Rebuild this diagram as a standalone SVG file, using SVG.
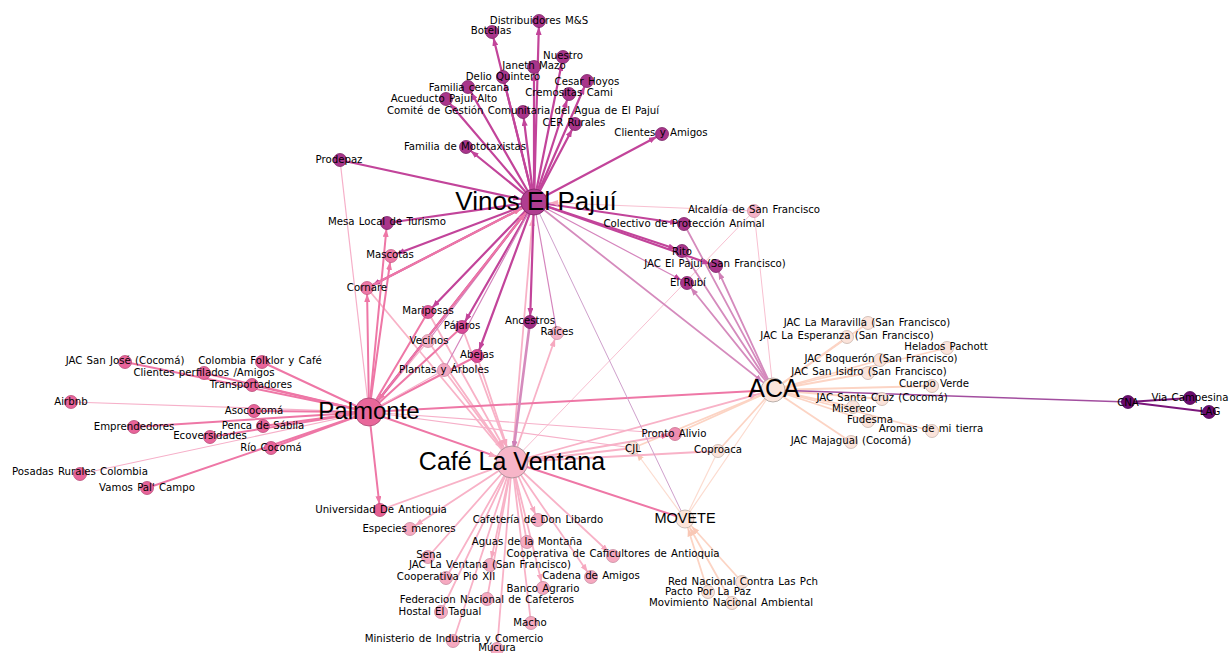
<svg xmlns="http://www.w3.org/2000/svg" width="1231" height="653" viewBox="0 0 1231 653">
<defs>
<style>
line{fill:none;stroke-linecap:round}
.ev{stroke:#c2449a;stroke-width:2.2}
.evt{stroke:#d585bd;stroke-width:1.2}
.ep{stroke:#ee77a6;stroke-width:2}
.ept{stroke:#f6b0c9;stroke-width:1.2}
.ec{stroke:#f8b2c7;stroke-width:1.8}
.ect{stroke:#f8c0d1;stroke-width:1}
.ea{stroke:#fcd4c4;stroke-width:1.8}
.eat{stroke:#fcdcd0;stroke-width:1.2}
.em{stroke:#d58bbd;stroke-width:1.8}
.emt{stroke:#cfa0cc;stroke-width:1}
.en{stroke:#a24e9f;stroke-width:1.6}
.enn{stroke:#7a167a;stroke-width:2.2}
circle{stroke-width:0.8}
.nv{fill:#a9358b;stroke:#7a2266}
.np{fill:#e8649a;stroke:#b84a76}
.nc{fill:#f6a9c0;stroke:#c88aa0}
.na{fill:#fbe3da;stroke:#c9b4ab}
.nn{fill:#6c0b70;stroke:#4a0550}
.l{font-family:"DejaVu Sans",sans-serif;font-size:10.2px;text-anchor:middle;fill:#000;word-spacing:1px}
.b{font-family:"Liberation Sans",Arial,sans-serif;text-anchor:middle;fill:#000}
</style>
<marker id="mv" markerUnits="userSpaceOnUse" markerWidth="8" markerHeight="6" refX="14" refY="3" orient="auto"><path d="M0,0L8,3L0,6z" fill="#c2449a"/></marker>
<marker id="mvH" markerUnits="userSpaceOnUse" markerWidth="8" markerHeight="6" refX="21" refY="3" orient="auto"><path d="M0,0L8,3L0,6z" fill="#c2449a"/></marker>
<marker id="mp" markerUnits="userSpaceOnUse" markerWidth="8" markerHeight="6" refX="14" refY="3" orient="auto"><path d="M0,0L8,3L0,6z" fill="#ee77a6"/></marker>
<marker id="mpH" markerUnits="userSpaceOnUse" markerWidth="8" markerHeight="6" refX="22" refY="3" orient="auto"><path d="M0,0L8,3L0,6z" fill="#ee77a6"/></marker>
<marker id="mc" markerUnits="userSpaceOnUse" markerWidth="8" markerHeight="6" refX="14" refY="3" orient="auto"><path d="M0,0L8,3L0,6z" fill="#f6a8bf"/></marker>
<marker id="mcH" markerUnits="userSpaceOnUse" markerWidth="8" markerHeight="6" refX="24" refY="3" orient="auto"><path d="M0,0L8,3L0,6z" fill="#f6a8bf"/></marker>
<marker id="ma" markerUnits="userSpaceOnUse" markerWidth="8" markerHeight="6" refX="14" refY="3" orient="auto"><path d="M0,0L8,3L0,6z" fill="#f9c8b6"/></marker>
<marker id="maH" markerUnits="userSpaceOnUse" markerWidth="8" markerHeight="6" refX="18" refY="3" orient="auto"><path d="M0,0L8,3L0,6z" fill="#f9c8b6"/></marker>
<marker id="mm" markerUnits="userSpaceOnUse" markerWidth="8" markerHeight="6" refX="14" refY="3" orient="auto"><path d="M0,0L8,3L0,6z" fill="#cf7fb6"/></marker>
<marker id="mmH" markerUnits="userSpaceOnUse" markerWidth="8" markerHeight="6" refX="21" refY="3" orient="auto"><path d="M0,0L8,3L0,6z" fill="#cf7fb6"/></marker>
</defs>
<rect width="1231" height="653" fill="#ffffff"/>
<g id="connectors">
<line class="ea" x1="773" y1="390" x2="868" y2="323"/>
<line class="ea" x1="773" y1="390" x2="847" y2="337"/>
<line class="ea" x1="773" y1="390" x2="947" y2="348"/>
<line class="ea" x1="773" y1="390" x2="880" y2="360"/>
<line class="ea" x1="773" y1="390" x2="868" y2="373"/>
<line class="ea" x1="773" y1="390" x2="932" y2="386"/>
<line class="ea" x1="773" y1="390" x2="882" y2="399"/>
<line class="ea" x1="773" y1="390" x2="853" y2="407"/>
<line class="ea" x1="773" y1="390" x2="868" y2="421"/>
<line class="ea" x1="773" y1="390" x2="932" y2="431"/>
<line class="ea" x1="773" y1="390" x2="851" y2="442"/>
<line class="ea" x1="773" y1="390" x2="718" y2="451"/>
<line class="ea" x1="773" y1="390" x2="633" y2="448"/>
<line class="ea" x1="773" y1="390" x2="675" y2="434"/>
<line class="eat" x1="773" y1="390" x2="685" y2="519"/>
<line class="ea" x1="742" y1="582" x2="685" y2="519" marker-end="url(#maH)"/>
<line class="ea" x1="708" y1="592" x2="685" y2="519" marker-end="url(#maH)"/>
<line class="ea" x1="732" y1="603" x2="685" y2="519" marker-end="url(#maH)"/>
<line class="eat" x1="685" y1="519" x2="633" y2="448" marker-end="url(#ma)"/>
<line class="eat" x1="685" y1="519" x2="718" y2="451"/>
<line class="en" x1="773" y1="390" x2="1128" y2="402"/>
<line class="enn" x1="1128" y1="402" x2="1190" y2="398"/>
<line class="enn" x1="1128" y1="402" x2="1209" y2="412"/>
<line class="ec" x1="512" y1="462" x2="538" y2="520" marker-end="url(#mc)"/>
<line class="ec" x1="512" y1="462" x2="410" y2="529" marker-end="url(#mc)"/>
<line class="ec" x1="512" y1="462" x2="527" y2="542"/>
<line class="ec" x1="512" y1="462" x2="613" y2="556" marker-end="url(#mc)"/>
<line class="ec" x1="512" y1="462" x2="428" y2="557"/>
<line class="ec" x1="512" y1="462" x2="490" y2="565" marker-end="url(#mc)"/>
<line class="ec" x1="512" y1="462" x2="446" y2="578"/>
<line class="ec" x1="512" y1="462" x2="591" y2="577" marker-end="url(#mc)"/>
<line class="ec" x1="512" y1="462" x2="543" y2="588" marker-end="url(#mc)"/>
<line class="ec" x1="512" y1="462" x2="487" y2="599"/>
<line class="ec" x1="512" y1="462" x2="441" y2="612"/>
<line class="ec" x1="512" y1="462" x2="531" y2="623"/>
<line class="ec" x1="512" y1="462" x2="453" y2="642"/>
<line class="ec" x1="512" y1="462" x2="497" y2="650"/>
<line class="ec" x1="512" y1="462" x2="380" y2="510"/>
<line class="ec" x1="428" y1="312" x2="512" y2="462" marker-end="url(#mcH)"/>
<line class="ec" x1="428" y1="341" x2="512" y2="462" marker-end="url(#mcH)"/>
<line class="ec" x1="462" y1="327" x2="512" y2="462" marker-end="url(#mcH)"/>
<line class="ec" x1="477" y1="356" x2="512" y2="462" marker-end="url(#mcH)"/>
<line class="ec" x1="444" y1="370" x2="512" y2="462" marker-end="url(#mcH)"/>
<line class="ec" x1="367" y1="288" x2="512" y2="462"/>
<line class="ec" x1="512" y1="462" x2="557" y2="333" marker-end="url(#mc)"/>
<line class="ec" x1="512" y1="462" x2="633" y2="448"/>
<line class="ec" x1="512" y1="462" x2="675" y2="434" marker-end="url(#mp)"/>
<line class="ec" x1="512" y1="462" x2="718" y2="451"/>
<line class="ep" x1="512" y1="462" x2="685" y2="519"/>
<line class="ec" x1="512" y1="462" x2="773" y2="390" marker-end="url(#mcH)"/>
<line class="ect" x1="512" y1="462" x2="754" y2="211"/>
<line class="ec" x1="512" y1="462" x2="534" y2="202" marker-end="url(#mcH)"/>
<line class="ep" x1="125" y1="362" x2="369" y2="412"/>
<line class="ep" x1="262" y1="362" x2="369" y2="412"/>
<line class="ep" x1="204" y1="373" x2="369" y2="412"/>
<line class="ep" x1="252" y1="385" x2="369" y2="412"/>
<line class="ept" x1="71" y1="402" x2="369" y2="412"/>
<line class="ep" x1="254" y1="411" x2="369" y2="412"/>
<line class="ep" x1="134" y1="427" x2="369" y2="412"/>
<line class="ep" x1="263" y1="426" x2="369" y2="412"/>
<line class="ep" x1="210" y1="437" x2="369" y2="412"/>
<line class="ep" x1="271" y1="448" x2="369" y2="412"/>
<line class="ept" x1="80" y1="474" x2="369" y2="412"/>
<line class="ep" x1="147" y1="488" x2="369" y2="412"/>
<line class="ep" x1="369" y1="412" x2="380" y2="510" marker-end="url(#mp)"/>
<line class="ept" x1="340" y1="160" x2="369" y2="412"/>
<line class="ep" x1="369" y1="412" x2="387" y2="223" marker-end="url(#mp)"/>
<line class="ep" x1="369" y1="412" x2="391" y2="256" marker-end="url(#mp)"/>
<line class="ep" x1="369" y1="412" x2="367" y2="288" marker-end="url(#mp)"/>
<line class="ep" x1="369" y1="412" x2="428" y2="312"/>
<line class="ep" x1="369" y1="412" x2="462" y2="327"/>
<line class="ept" x1="369" y1="412" x2="428" y2="341"/>
<line class="ep" x1="369" y1="412" x2="477" y2="356"/>
<line class="ept" x1="369" y1="412" x2="444" y2="370"/>
<line class="ep" x1="369" y1="412" x2="512" y2="462" marker-end="url(#mcH)"/>
<line class="ep" x1="369" y1="412" x2="773" y2="390" marker-end="url(#mpH)"/>
<line class="ept" x1="369" y1="412" x2="675" y2="434"/>
<line class="ept" x1="369" y1="412" x2="633" y2="448"/>
<line class="em" x1="773" y1="390" x2="687" y2="283" marker-end="url(#mm)"/>
<line class="em" x1="773" y1="390" x2="716" y2="266" marker-end="url(#mm)"/>
<line class="em" x1="773" y1="390" x2="682" y2="251"/>
<line class="em" x1="773" y1="390" x2="684" y2="224"/>
<line class="ect" x1="773" y1="390" x2="754" y2="211"/>
<line class="em" x1="534" y1="202" x2="773" y2="390" marker-end="url(#mmH)"/>
<line class="emt" x1="534" y1="202" x2="685" y2="519"/>
<line class="ev" x1="534" y1="202" x2="539" y2="21" marker-end="url(#mv)"/>
<line class="ev" x1="534" y1="202" x2="492" y2="32" marker-end="url(#mv)"/>
<line class="ev" x1="534" y1="202" x2="563" y2="57" marker-end="url(#mv)"/>
<line class="ev" x1="534" y1="202" x2="534" y2="67" marker-end="url(#mv)"/>
<line class="ev" x1="534" y1="202" x2="503" y2="77" marker-end="url(#mv)"/>
<line class="ev" x1="534" y1="202" x2="587" y2="81" marker-end="url(#mv)"/>
<line class="ev" x1="534" y1="202" x2="468" y2="87" marker-end="url(#mv)"/>
<line class="ev" x1="534" y1="202" x2="569" y2="94" marker-end="url(#mv)"/>
<line class="ev" x1="534" y1="202" x2="446" y2="99" marker-end="url(#mv)"/>
<line class="ev" x1="534" y1="202" x2="523" y2="112" marker-end="url(#mv)"/>
<line class="ev" x1="534" y1="202" x2="575" y2="124" marker-end="url(#mv)"/>
<line class="ev" x1="534" y1="202" x2="662" y2="134" marker-end="url(#mv)"/>
<line class="ev" x1="534" y1="202" x2="466" y2="147" marker-end="url(#mv)"/>
<line class="ev" x1="340" y1="160" x2="534" y2="202" marker-end="url(#mvH)"/>
<line class="ev" x1="534" y1="202" x2="387" y2="223" marker-end="url(#mv)"/>
<line class="ev" x1="534" y1="202" x2="391" y2="256" marker-end="url(#mv)"/>
<line class="ev" x1="534" y1="202" x2="367" y2="288" marker-end="url(#mv)"/>
<line class="ep" x1="367" y1="288" x2="534" y2="202" marker-end="url(#mpH)"/>
<line class="ev" x1="534" y1="202" x2="428" y2="312" marker-end="url(#mv)"/>
<line class="ev" x1="534" y1="202" x2="462" y2="327" marker-end="url(#mv)"/>
<line class="evt" x1="534" y1="202" x2="428" y2="341"/>
<line class="ev" x1="534" y1="202" x2="477" y2="356" marker-end="url(#mv)"/>
<line class="evt" x1="534" y1="202" x2="444" y2="370"/>
<line class="ev" x1="534" y1="202" x2="530" y2="322" marker-end="url(#mv)"/>
<line class="em" x1="530" y1="322" x2="512" y2="462" style="stroke-width:2.6" marker-end="url(#mmH)"/>
<line class="evt" x1="534" y1="202" x2="557" y2="333"/>
<line class="ev" x1="534" y1="202" x2="684" y2="224" marker-end="url(#mv)"/>
<line class="ev" x1="534" y1="202" x2="682" y2="251" marker-end="url(#mv)"/>
<line class="ev" x1="534" y1="202" x2="716" y2="266" marker-end="url(#mv)"/>
<line class="evt" x1="534" y1="202" x2="687" y2="283" marker-end="url(#mv)"/>
<line class="ect" x1="754" y1="211" x2="534" y2="202" marker-end="url(#mcH)"/>
<line class="ev" x1="534" y1="202" x2="369" y2="412" marker-end="url(#mpH)"/>
<line class="ep" x1="369" y1="412" x2="534" y2="202" marker-end="url(#mpH)"/>
</g>
<g id="nodes">
<g id="n-distribuidores"><circle class="nv" cx="539" cy="21" r="6.5"/><text class="l" x="539" y="24">Distribuidores M&amp;S</text></g>
<g id="n-botellas"><circle class="nv" cx="492" cy="32" r="6.5"/><text class="l" x="491" y="34">Botellas</text></g>
<g id="n-nuestro"><circle class="nv" cx="563" cy="57" r="6.5"/><text class="l" x="563" y="59">Nuestro</text></g>
<g id="n-janeth"><circle class="nv" cx="534" cy="67" r="6.5"/><text class="l" x="534" y="69">Janeth Mazo</text></g>
<g id="n-delio"><circle class="nv" cx="503" cy="77" r="6.5"/><text class="l" x="503" y="80">Delio Quintero</text></g>
<g id="n-cesar"><circle class="nv" cx="587" cy="81" r="6.5"/><text class="l" x="587" y="85">Cesar Hoyos</text></g>
<g id="n-familia"><circle class="nv" cx="468" cy="87" r="6.5"/><text class="l" x="469" y="91">Familia cercana</text></g>
<g id="n-cremositas"><circle class="nv" cx="569" cy="94" r="6.5"/><text class="l" x="569" y="96">Cremositas Cami</text></g>
<g id="n-acueducto"><circle class="nv" cx="446" cy="99" r="6.5"/><text class="l" x="444" y="102">Acueducto Pajuí Alto</text></g>
<g id="n-comite"><circle class="nv" cx="523" cy="112" r="6.5"/><text class="l" x="523" y="114">Comité de Gestión Comunitaria del Agua de El Pajuí</text></g>
<g id="n-cer"><circle class="nv" cx="575" cy="124" r="6.5"/><text class="l" x="574" y="126">CER Rurales</text></g>
<g id="n-clientes"><circle class="nv" cx="662" cy="134" r="6.5"/><text class="l" x="661" y="136">Clientes y Amigos</text></g>
<g id="n-mototaxistas"><circle class="nv" cx="466" cy="147" r="6.5"/><text class="l" x="465" y="150">Familia de Mototaxistas</text></g>
<g id="n-prodepaz"><circle class="nv" cx="340" cy="160" r="6.5"/><text class="l" x="339" y="163">Prodepaz</text></g>
<g id="n-mesa"><circle class="nv" cx="387" cy="223" r="6.5"/><text class="l" x="387" y="225">Mesa Local de Turismo</text></g>
<g id="n-mascotas"><circle cx="391" cy="256" r="6.5" fill="#ee78a6" stroke="#c65c86"/><text class="l" x="390" y="258">Mascotas</text></g>
<g id="n-cornare"><circle cx="367" cy="288" r="6.5" fill="#ee78a6" stroke="#c65c86"/><text class="l" x="367" y="291">Cornare</text></g>
<g id="n-alcaldia"><circle cx="754" cy="211" r="6.5" fill="#f5b3c7" stroke="#d090a5"/><text class="l" x="754" y="213">Alcaldía de San Francisco</text></g>
<g id="n-colectivo"><circle class="nv" cx="684" cy="224" r="6.5"/><text class="l" x="684" y="227">Colectivo de Protección Animal</text></g>
<g id="n-rito"><circle class="nv" cx="682" cy="251" r="6.5"/><text class="l" x="682" y="255">Rito</text></g>
<g id="n-jacpajui"><circle class="nv" cx="716" cy="266" r="6.5"/><text class="l" x="715" y="267">JAC El Pajuí (San Francisco)</text></g>
<g id="n-rubi"><circle class="nv" cx="687" cy="283" r="6.5"/><text class="l" x="688" y="286">El Rubí</text></g>
<g id="n-mariposas"><circle cx="428" cy="312" r="6.5" fill="#e4599b" stroke="#b8437c"/><text class="l" x="428" y="314">Mariposas</text></g>
<g id="n-pajaros"><circle cx="462" cy="327" r="6.5" fill="#d94a98" stroke="#aa397a"/><text class="l" x="462" y="329">Pájaros</text></g>
<g id="n-ancestros"><circle cx="530" cy="322" r="6.5" fill="#a02c84" stroke="#7a2066"/><text class="l" x="530" y="324">Ancestros</text></g>
<g id="n-raices"><circle cx="557" cy="333" r="6.5" fill="#f4b3c8" stroke="#d090a5"/><text class="l" x="557" y="335">Raíces</text></g>
<g id="n-vecinos"><circle cx="428" cy="341" r="6.5" fill="#f3b0c6" stroke="#cf90a6"/><text class="l" x="429" y="344">Vecinos</text></g>
<g id="n-abejas"><circle cx="477" cy="356" r="6.5" fill="#dd4b96" stroke="#b03a78"/><text class="l" x="477" y="358">Abejas</text></g>
<g id="n-plantas"><circle cx="444" cy="370" r="6.5" fill="#f2a7c1" stroke="#cd88a1"/><text class="l" x="444" y="373">Plantas y Árboles</text></g>
<g id="n-jacsanjose"><circle class="np" cx="125" cy="362" r="6.5"/><text class="l" x="125" y="364">JAC San José (Cocomá)</text></g>
<g id="n-folklor"><circle class="np" cx="262" cy="362" r="6.5"/><text class="l" x="260" y="364">Colombia Folklor y Café</text></g>
<g id="n-clientesperf"><circle class="np" cx="204" cy="373" r="6.5"/><text class="l" x="204" y="376">Clientes perfilados /Amigos</text></g>
<g id="n-transportadores"><circle class="np" cx="252" cy="385" r="6.5"/><text class="l" x="251" y="388">Transportadores</text></g>
<g id="n-airbnb"><circle class="np" cx="71" cy="402" r="6.5"/><text class="l" x="71" y="405">Airbnb</text></g>
<g id="n-asococoma"><circle class="np" cx="254" cy="411" r="6.5"/><text class="l" x="254" y="414">Asococomá</text></g>
<g id="n-emprendedores"><circle class="np" cx="134" cy="427" r="6.5"/><text class="l" x="134" y="430">Emprendedores</text></g>
<g id="n-penca"><circle class="np" cx="263" cy="426" r="6.5"/><text class="l" x="263" y="429">Penca de Sábila</text></g>
<g id="n-ecoversidades"><circle class="np" cx="210" cy="437" r="6.5"/><text class="l" x="210" y="439">Ecoversidades</text></g>
<g id="n-riococoma"><circle class="np" cx="271" cy="448" r="6.5"/><text class="l" x="271" y="451">Río Cocomá</text></g>
<g id="n-posadas"><circle class="np" cx="80" cy="474" r="6.5"/><text class="l" x="80" y="475">Posadas Rurales Colombia</text></g>
<g id="n-vamos"><circle class="np" cx="147" cy="488" r="6.5"/><text class="l" x="147" y="491">Vamos Pal' Campo</text></g>
<g id="n-universidad"><circle cx="380" cy="510" r="6.5" fill="#e65f92" stroke="#b84a76"/><text class="l" x="381" y="513">Universidad De Antioquia</text></g>
<g id="n-cafeteria"><circle class="nc" cx="538" cy="520" r="6.5"/><text class="l" x="538" y="523">Cafetería de Don Libardo</text></g>
<g id="n-especies"><circle class="nc" cx="410" cy="529" r="6.5"/><text class="l" x="409" y="532">Especies menores</text></g>
<g id="n-aguas"><circle class="nc" cx="527" cy="542" r="6.5"/><text class="l" x="527" y="545">Aguas de la Montaña</text></g>
<g id="n-caficultores"><circle class="nc" cx="613" cy="556" r="6.5"/><text class="l" x="613" y="557">Cooperativa de Caficultores de Antioquia</text></g>
<g id="n-sena"><circle class="nc" cx="428" cy="557" r="6.5"/><text class="l" x="429" y="558">Sena</text></g>
<g id="n-jacventana"><circle class="nc" cx="490" cy="565" r="6.5"/><text class="l" x="490" y="568">JAC La Ventana (San Francisco)</text></g>
<g id="n-pio"><circle class="nc" cx="446" cy="578" r="6.5"/><text class="l" x="446" y="580">Cooperativa Pio XII</text></g>
<g id="n-cadena"><circle class="nc" cx="591" cy="577" r="6.5"/><text class="l" x="591" y="579">Cadena de Amigos</text></g>
<g id="n-banco"><circle class="nc" cx="543" cy="588" r="6.5"/><text class="l" x="543" y="592">Banco Agrario</text></g>
<g id="n-federacion"><circle class="nc" cx="487" cy="599" r="6.5"/><text class="l" x="487" y="603">Federacion Nacional de Cafeteros</text></g>
<g id="n-hostal"><circle class="nc" cx="441" cy="612" r="6.5"/><text class="l" x="440" y="615">Hostal El Tagual</text></g>
<g id="n-macho"><circle class="nc" cx="531" cy="623" r="6.5"/><text class="l" x="530" y="626">Macho</text></g>
<g id="n-ministerio"><circle class="nc" cx="453" cy="641" r="6.5"/><text class="l" x="454" y="642">Ministerio de Industria y Comercio</text></g>
<g id="n-mucura"><circle class="nc" cx="497" cy="649" r="6.5"/><text class="l" x="497" y="651">Múcura</text></g>
<g id="n-pronto"><circle cx="675" cy="434" r="6.5" fill="#ef8db1" stroke="#c8708f"/><text class="l" x="674" y="437">Pronto Alivio</text></g>
<g id="n-cjl"><circle class="na" cx="633" cy="448" r="6.5"/><text class="l" x="633" y="452">CJL</text></g>
<g id="n-coproaca"><circle class="na" cx="718" cy="451" r="6.5"/><text class="l" x="718" y="453">Coproaca</text></g>
<g id="n-maravilla"><circle class="na" cx="868" cy="323" r="6.5"/><text class="l" x="867" y="326">JAC La Maravilla (San Francisco)</text></g>
<g id="n-esperanza"><circle class="na" cx="847" cy="337" r="6.5"/><text class="l" x="847" y="339">JAC La Esperanza (San Francisco)</text></g>
<g id="n-helados"><circle class="na" cx="947" cy="348" r="6.5"/><text class="l" x="946" y="350">Helados Pachott</text></g>
<g id="n-boqueron"><circle class="na" cx="880" cy="360" r="6.5"/><text class="l" x="881" y="362">JAC Boquerón (San Francisco)</text></g>
<g id="n-sanisidro"><circle class="na" cx="868" cy="373" r="6.5"/><text class="l" x="869" y="375">JAC San Isidro (San Francisco)</text></g>
<g id="n-cuerpo"><circle class="na" cx="932" cy="386" r="6.5"/><text class="l" x="934" y="387">Cuerpo Verde</text></g>
<g id="n-santacruz"><circle class="na" cx="882" cy="399" r="6.5"/><text class="l" x="882" y="401">JAC Santa Cruz (Cocomá)</text></g>
<g id="n-misereor"><circle class="na" cx="853" cy="407" r="6.5"/><text class="l" x="854" y="412">Misereor</text></g>
<g id="n-fudesma"><circle class="na" cx="868" cy="421" r="6.5"/><text class="l" x="870" y="423">Fudesma</text></g>
<g id="n-aromas"><circle class="na" cx="932" cy="431" r="6.5"/><text class="l" x="931" y="432">Aromas de mi tierra</text></g>
<g id="n-majagual"><circle class="na" cx="851" cy="442" r="6.5"/><text class="l" x="851" y="444">JAC Majagual (Cocomá)</text></g>
<g id="n-rednac"><circle class="na" cx="742" cy="582" r="6.5"/><text class="l" x="743" y="585">Red Nacional Contra Las Pch</text></g>
<g id="n-pacto"><circle class="na" cx="708" cy="592" r="6.5"/><text class="l" x="708" y="595">Pacto Por La Paz</text></g>
<g id="n-movimiento"><circle class="na" cx="732" cy="603" r="6.5"/><text class="l" x="731" y="606">Movimiento Nacional Ambiental</text></g>
<g id="n-cna"><circle class="nn" cx="1128" cy="402" r="6.5"/><text class="l" x="1128" y="406">CNA</text></g>
<g id="n-via"><circle class="nn" cx="1190" cy="398" r="6.5"/><text class="l" x="1190" y="401">Via Campesina</text></g>
<g id="n-lag"><circle class="nn" cx="1209" cy="412" r="6.5"/><text class="l" x="1210" y="415">LAG</text></g>
<g id="n-movete"><circle cx="685" cy="519" r="9" fill="#fde5da" stroke="#bdb0a8"/><text class="b" x="685" y="523" font-size="14.5">MOVETE</text></g>
<g id="n-aca"><circle cx="773" cy="390" r="12" fill="#fbe5dc" stroke="#a8a09a" stroke-width="1.2"/><text class="b" x="774" y="397" font-size="25">ACA</text></g>
<g id="n-palmonte"><circle cx="369" cy="412" r="14" fill="#e8679a" stroke="#a84a72" stroke-width="1.2"/><text class="b" x="369" y="419" font-size="24">Palmonte</text></g>
<g id="n-cafe"><circle cx="512" cy="462" r="16" fill="#f7b5c8" stroke="#a08890" stroke-width="1.2"/><text class="b" x="512" y="470" font-size="25">Café La Ventana</text></g>
<g id="n-vinos"><circle cx="534" cy="202" r="13" fill="#b03d90" stroke="#7d2566" stroke-width="1.2"/><text class="b" x="536" y="210" font-size="26">Vinos El Pajuí</text></g>
</g>
</svg>
